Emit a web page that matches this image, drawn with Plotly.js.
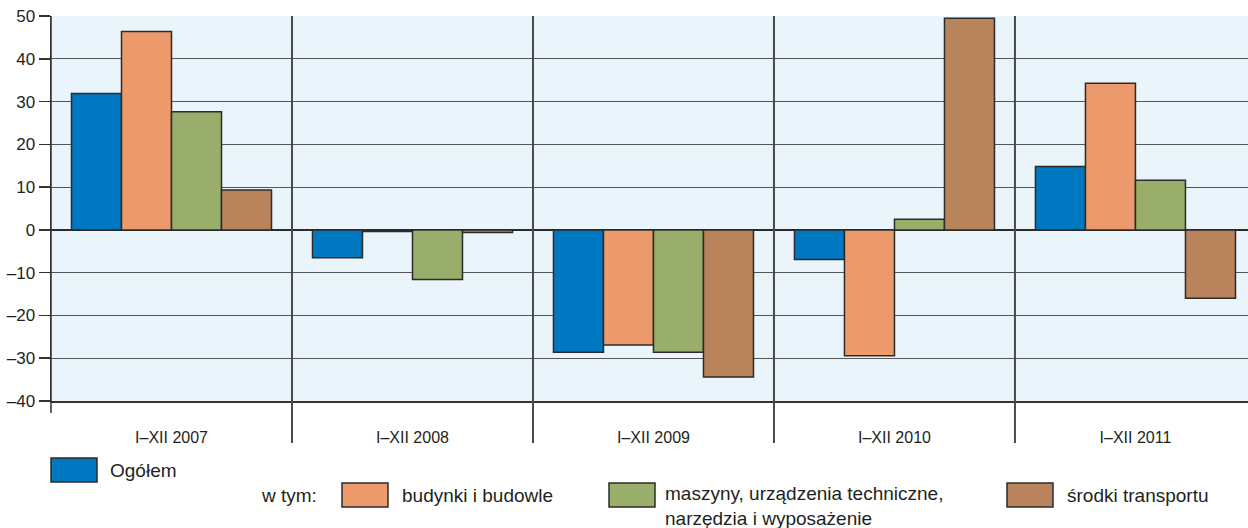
<!DOCTYPE html>
<html>
<head>
<meta charset="utf-8">
<script src="https://cdn.plot.ly/plotly-3.0.1.min.js"></script>
<style>
html,body{margin:0;padding:0;background:#fff;}
#chart{width:1248px;height:528px;}
</style>
</head>
<body>
<div id="chart"></div>
<script>
// ---- data ----
var categories = ["I\u2013XII 2007", "I\u2013XII 2008", "I\u2013XII 2009", "I\u2013XII 2010", "I\u2013XII 2011"];
var seriesNames = ["Ogółem", "budynki i budowle", "maszyny, urządzenia techniczne,<br>narzędzia i wyposażenie", "środki transportu"];
var ogolem    = [31.9, -6.5, -28.6, -6.9, 14.8];
var budynki   = [46.4, -0.4, -26.9, -29.4, 34.3];
var maszyny   = [27.6, -11.6, -28.6, 2.5, 11.6];
var transport = [9.3, -0.6, -34.4, 49.5, -16.0];
var yTickVals = [-40, -30, -20, -10, 0, 10, 20, 30, 40, 50];
var yTickText = ["\u201340", "\u201330", "\u201320", "\u201310", "0", "10", "20", "30", "40", "50"];
var legendPrefix = "w tym:";

var colors = ["#0077c1", "#ec9a6b", "#99ae6b", "#b9845c"];
var values = [ogolem, budynki, maszyny, transport];

var traces = values.map(function (v, i) {
  return {
    type: "bar",
    x: categories,
    y: v,
    name: seriesNames[i],
    marker: {color: colors[i], line: {color: "#2b2b2b", width: 1.5}},
    hoverinfo: "skip"
  };
});

// plot area in pixels: x 51..1248, y 16..401
var L = 51, T = 16, W = 1197, H = 385;
function px(x) { return (x - L) / W; }
function py(y) { return (T + H - y) / H; }

var shapes = [];
// vertical separators between categories (extend below the plot)
for (var k = 0; k < categories.length - 1; k++) {
  shapes.push({type: "line", xref: "x", yref: "paper", x0: k + 0.5, x1: k + 0.5,
    y0: py(443), y1: 1, line: {color: "#4a4a4a", width: 2}, layer: "above"});
}
// left axis line extension
shapes.push({type: "line", xref: "paper", yref: "paper", x0: 0, x1: 0, y0: py(413), y1: 1,
  line: {color: "#333333", width: 1.5}, layer: "above"});

// legend swatches
var sw = [
  {x0: 51, y0: 458},
  {x0: 342, y0: 483},
  {x0: 609, y0: 483},
  {x0: 1007, y0: 483}
];
var textX = [108, 400, 663, 1065];
var annotations = [];
sw.forEach(function (s, i) {
  shapes.push({type: "rect", xref: "paper", yref: "paper",
    x0: px(s.x0), x1: px(s.x0 + 46), y0: py(s.y0 + 24), y1: py(s.y0),
    fillcolor: colors[i], line: {color: "#2b2b2b", width: 1.5}});
  var multi = seriesNames[i].indexOf("<br>") >= 0;
  annotations.push({xref: "paper", yref: "paper", x: px(textX[i]),
    y: multi ? py(s.y0 - 2) : py(s.y0 + 12),
    xanchor: "left", yanchor: multi ? "top" : "middle", align: "left",
    text: seriesNames[i], showarrow: false,
    font: {family: "Liberation Sans, Arial, sans-serif", size: 19, color: "#231f20"}});
});
annotations.push({xref: "paper", yref: "paper", x: px(319), y: py(495),
  xanchor: "right", yanchor: "middle", text: legendPrefix, showarrow: false,
  font: {family: "Liberation Sans, Arial, sans-serif", size: 19, color: "#231f20"}});

var layout = {
  width: 1248, height: 528,
  margin: {l: L, r: 0, t: T, b: 528 - T - H, pad: 0},
  paper_bgcolor: "#ffffff",
  plot_bgcolor: "#eaf4fb",
  barmode: "group",
  bargap: 0.17,
  bargroupgap: 0,
  showlegend: false,
  font: {family: "Liberation Sans, Arial, sans-serif", color: "#231f20"},
  xaxis: {
    type: "category",
    range: [-0.5, 4.467],
    showgrid: false,
    zeroline: false,
    showline: true, linecolor: "#333333", linewidth: 1.5,
    ticks: "",
    ticklabelstandoff: 21,
    tickfont: {size: 16, color: "#231f20"},
    fixedrange: true
  },
  yaxis: {
    range: [-40, 50],
    tickvals: yTickVals,
    ticktext: yTickText,
    showgrid: true, gridcolor: "#555555", gridwidth: 1.2,
    zeroline: true, zerolinecolor: "#2b2b2b", zerolinewidth: 2.5,
    showline: true, linecolor: "#333333", linewidth: 1.5,
    ticks: "outside", ticklen: 11, tickcolor: "#333333", tickwidth: 1.5,
    tickfont: {size: 17, color: "#231f20"},
    fixedrange: true
  },
  shapes: shapes,
  annotations: annotations
};

Plotly.newPlot("chart", traces, layout, {displayModeBar: false, staticPlot: true});
</script>
</body>
</html>
